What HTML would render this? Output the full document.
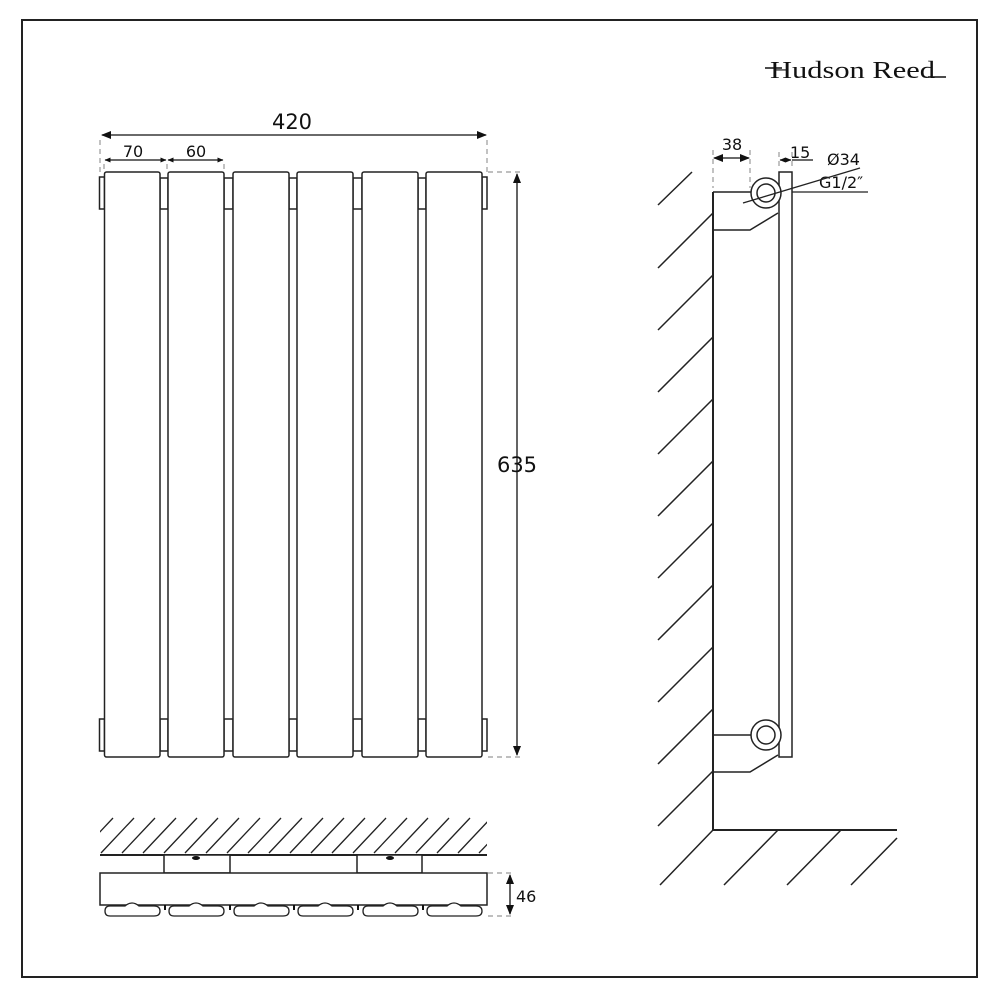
<!DOCTYPE html>
<html><head><meta charset="utf-8"><style>
html,body{margin:0;padding:0;background:#fff;}
svg{display:block;}
text{font-family:"DejaVu Sans","Liberation Sans",sans-serif;fill:#111;}
</style></head><body>
<svg width="1000" height="1000" viewBox="0 0 1000 1000" xmlns="http://www.w3.org/2000/svg">
<defs>
<marker id="a" markerWidth="10" markerHeight="8" refX="9" refY="4" orient="auto-start-reverse" markerUnits="userSpaceOnUse"><path d="M0,0 L10,4 L0,8 Z" fill="#111"/></marker>
<marker id="s" markerWidth="6" markerHeight="5" refX="5.5" refY="2.5" orient="auto-start-reverse" markerUnits="userSpaceOnUse"><path d="M0,0 L6,2.5 L0,5 Z" fill="#111"/></marker>
<clipPath id="hc"><rect x="100" y="817" width="387" height="38"/></clipPath>
</defs>
<rect x="22" y="20" width="955" height="957" fill="none" stroke="#222" stroke-width="2"/>
<!-- logo -->
<text x="770" y="78" textLength="165" lengthAdjust="spacingAndGlyphs" style="font-family:'Liberation Serif',serif;font-size:24px">Hudson Reed</text>
<line x1="765" y1="68" x2="782" y2="68" stroke="#111" stroke-width="1.5"/>
<line x1="928" y1="77" x2="946" y2="77" stroke="#111" stroke-width="1.5"/>

<g fill="none" stroke="#222" stroke-width="1.5">
<g fill="#fff">
<rect x="99.5" y="177" width="5" height="32"/><rect x="482" y="177" width="5" height="32"/>
<rect x="99.5" y="719" width="5" height="32"/><rect x="482" y="719" width="5" height="32"/>
<rect x="160" y="178" width="8" height="31"/><rect x="224" y="178" width="9" height="31"/><rect x="289" y="178" width="8" height="31"/><rect x="353" y="178" width="9" height="31"/><rect x="418" y="178" width="8" height="31"/>
<rect x="160" y="719" width="8" height="32"/><rect x="224" y="719" width="9" height="32"/><rect x="289" y="719" width="8" height="32"/><rect x="353" y="719" width="9" height="32"/><rect x="418" y="719" width="8" height="32"/>
<rect x="104.5" y="172" width="55.5" height="585" rx="2"/>
<rect x="168" y="172" width="56" height="585" rx="2"/>
<rect x="233" y="172" width="56" height="585" rx="2"/>
<rect x="297" y="172" width="56" height="585" rx="2"/>
<rect x="362" y="172" width="56" height="585" rx="2"/>
<rect x="426" y="172" width="56" height="585" rx="2"/>
</g>
</g>
<g stroke="#999" stroke-width="1.2" stroke-dasharray="5,4" fill="none">
<line x1="100" y1="140" x2="100" y2="172"/><line x1="487" y1="140" x2="487" y2="172"/>
<line x1="104" y1="164" x2="104" y2="172"/><line x1="167" y1="164" x2="167" y2="172"/><line x1="224" y1="164" x2="224" y2="172"/>
<line x1="488" y1="172" x2="522" y2="172"/><line x1="488" y1="757" x2="522" y2="757"/>
<line x1="488" y1="873" x2="515" y2="873"/><line x1="488" y1="916" x2="515" y2="916"/>
<line x1="713" y1="150" x2="713" y2="188"/><line x1="750" y1="150" x2="750" y2="188"/>
<line x1="779" y1="152" x2="779" y2="170"/><line x1="792" y1="152" x2="792" y2="170"/>
</g>
<g stroke="#111" stroke-width="1.3" fill="none">
<line x1="102" y1="135" x2="486" y2="135" marker-start="url(#a)" marker-end="url(#a)"/>
<line x1="105" y1="160" x2="166" y2="160" marker-start="url(#s)" marker-end="url(#s)"/>
<line x1="168" y1="160" x2="223" y2="160" marker-start="url(#s)" marker-end="url(#s)"/>
<line x1="517" y1="174" x2="517" y2="755" marker-start="url(#a)" marker-end="url(#a)"/>
<line x1="510" y1="875" x2="510" y2="914" marker-start="url(#a)" marker-end="url(#a)"/>
<line x1="714" y1="158" x2="749" y2="158" marker-start="url(#a)" marker-end="url(#a)"/>
<line x1="780" y1="160" x2="791" y2="160" marker-start="url(#s)" marker-end="url(#s)"/>
<line x1="792" y1="160" x2="813" y2="160"/>
</g>
<text x="292" y="129" font-size="21" text-anchor="middle">420</text>
<text x="133" y="157" font-size="16" text-anchor="middle">70</text>
<text x="196" y="157" font-size="16" text-anchor="middle">60</text>
<text x="517" y="472" font-size="21" text-anchor="middle">635</text>
<text x="516" y="902" font-size="16">46</text>
<text x="732" y="150" font-size="16" text-anchor="middle">38</text>
<text x="790" y="158" font-size="16">15</text>
<text x="827" y="165" font-size="16">Ø34</text>
<text x="819" y="188" font-size="16">G1/2″</text>

<!-- bottom view -->
<g stroke="#222" stroke-width="1.3" fill="none">
<g clip-path="url(#hc)">
<path d="M80,853 L113,818 M101,853 L134,818 M122,853 L155,818 M143,853 L176,818 M164,853 L197,818 M185,853 L218,818 M206,853 L239,818 M227,853 L260,818 M248,853 L281,818 M269,853 L302,818 M290,853 L323,818 M311,853 L344,818 M332,853 L365,818 M353,853 L386,818 M374,853 L407,818 M395,853 L428,818 M416,853 L449,818 M437,853 L470,818 M458,853 L491,818 M479,853 L512,818"/>
</g>
<line x1="100" y1="855" x2="487" y2="855" stroke-width="2"/>
<g stroke-width="1.5">
<rect x="164" y="855" width="66" height="18" fill="#fff"/>
<rect x="357" y="855" width="65" height="18" fill="#fff"/>
<rect x="100" y="873" width="387" height="32" fill="#fff"/>
</g>
</g>
<ellipse cx="196" cy="858" rx="4" ry="2" fill="#111"/>
<ellipse cx="390" cy="858" rx="4" ry="2" fill="#111"/>
<g stroke="#222" stroke-width="1.3" fill="#fff">
<path d="M110,906 L125,906 Q132,900 139,906 L154,906 Q160,906 160,911 Q160,916 154,916 L110,916 Q105,916 105,911 Q105,906 110,906Z"/>
<path d="M174,906 L189,906 Q196,900 203,906 L218,906 Q224,906 224,911 Q224,916 218,916 L174,916 Q169,916 169,911 Q169,906 174,906Z"/>
<path d="M239,906 L254,906 Q261,900 268,906 L283,906 Q289,906 289,911 Q289,916 283,916 L239,916 Q234,916 234,911 Q234,906 239,906Z"/>
<path d="M303,906 L318,906 Q325,900 332,906 L347,906 Q353,906 353,911 Q353,916 347,916 L303,916 Q298,916 298,911 Q298,906 303,906Z"/>
<path d="M368,906 L383,906 Q390,900 397,906 L412,906 Q418,906 418,911 Q418,916 412,916 L368,916 Q363,916 363,911 Q363,906 368,906Z"/>
<path d="M432,906 L447,906 Q454,900 461,906 L476,906 Q482,906 482,911 Q482,916 476,916 L432,916 Q427,916 427,911 Q427,906 432,906Z"/>
</g>
<g fill="#111"><rect x="164" y="905" width="2" height="5"/><rect x="229" y="905" width="2" height="5"/><rect x="293" y="905" width="2" height="5"/><rect x="357" y="905" width="2" height="5"/><rect x="422" y="905" width="2" height="5"/></g>

<!-- side view -->
<g stroke="#222" stroke-width="1.5" fill="none">
<path d="M658,205 L692,172 M658,268 L713,213 M658,330 L713,275 M658,392 L713,337 M658,454 L713,399 M658,516 L713,461 M658,578 L713,523 M658,640 L713,585 M658,702 L713,647 M658,764 L713,709 M658,826 L713,771"/>
<path d="M660,885 L713,830 M724,885 L778,830 M787,885 L841,830 M851,885 L897,838"/>
<line x1="713" y1="192" x2="713" y2="830" stroke-width="2"/>
<line x1="713" y1="830" x2="897" y2="830" stroke-width="2"/>
<line x1="713" y1="192" x2="751" y2="192"/>
<path d="M713,230 L750,230 L778,213"/>
<path d="M713,735 L751,735"/>
<path d="M713,772 L750,772 L778,755"/>
<rect x="779" y="172" width="13" height="585" fill="#fff"/>
<circle cx="766" cy="193" r="15" fill="#fff"/><circle cx="766" cy="193" r="9"/>
<circle cx="766" cy="735" r="15" fill="#fff"/><circle cx="766" cy="735" r="9"/>
<line x1="743" y1="203" x2="860" y2="168" stroke-width="1.3"/>
<line x1="792" y1="192" x2="868" y2="192" stroke-width="1.3"/>
</g>
</svg>
</body></html>
